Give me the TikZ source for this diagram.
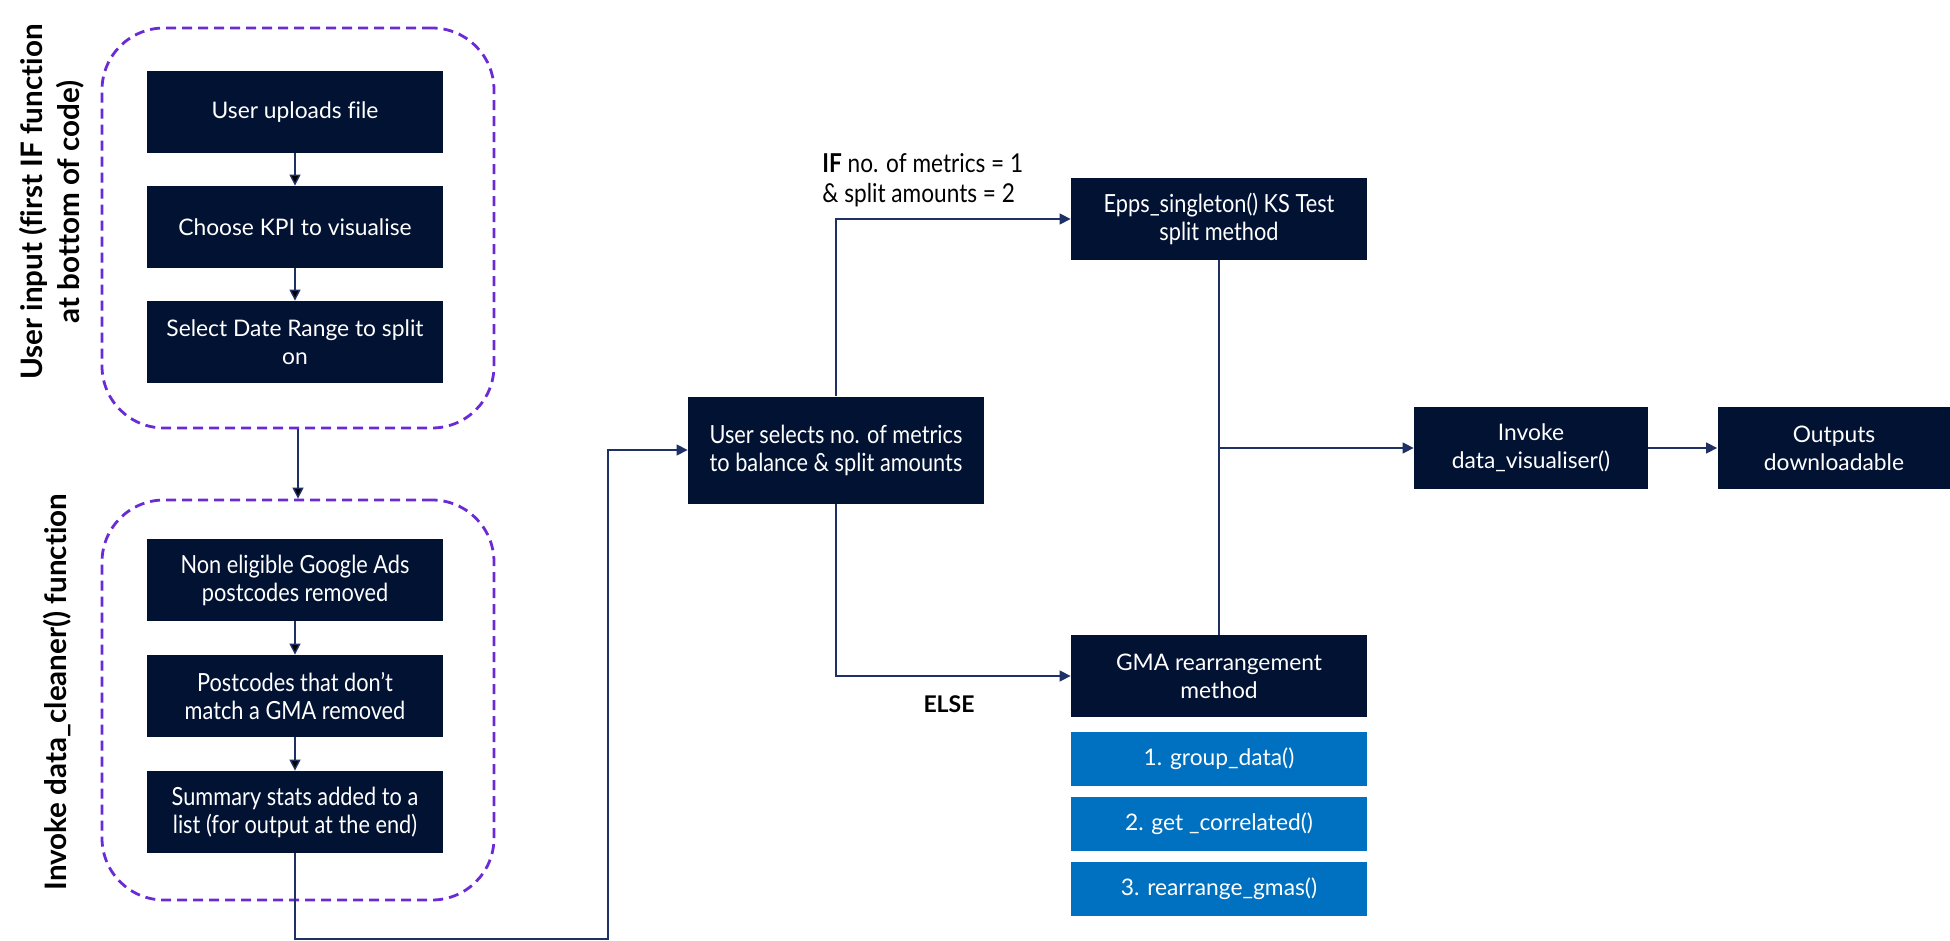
\documentclass[tikz,border=0pt]{standalone}
\usepackage{fontspec}
\setmainfont{Lato}[Ligatures=CommonOff]
\newfontfamily\narrowfont[FakeStretch=0.87,Ligatures=CommonOff]{Lato}
\usepackage{xcolor}
\usepackage{tikz}
\usetikzlibrary{shapes, arrows.meta}

\definecolor{navy}{HTML}{021233}
\definecolor{azure}{HTML}{0070C0}
\definecolor{violet}{HTML}{6A2BD6}
\definecolor{wire}{HTML}{1F3064}

\begin{document}
\begin{tikzpicture}[-,>={Triangle[length=5.5pt,width=5.5pt]},x=0.5pt,y=-0.5pt,node distance=57.5pt,
      wire/.style={draw=wire,line width=0.7pt},
      dark node/.style={rectangle,fill=navy,text=white,minimum width=148pt,minimum height=41pt,
        align=center,inner sep=2pt,font=\fontsize{11.4}{14}\selectfont},
      narrow node/.style={dark node,font=\narrowfont\fontsize{12.5}{14}\selectfont},
      blue node/.style={dark node,fill=azure,minimum height=27pt},
      group box/.style={draw=violet,line width=1.4pt,dash pattern=on 5pt off 3pt,
        rounded corners=31pt,minimum width=196pt,minimum height=200pt},
      side label/.style={rotate=90,align=center,font=\bfseries\fontsize{14.8}{18.5}\selectfont}]
    \useasboundingbox (0,0) rectangle (1950,941);

    % dashed groups and their labels
    \node[group box] (g1) at (298,228) {};
    \node[group box] (g2) at (298,700) {};
    \node[side label] (t1) at (52,202) {User input (first IF function\\at bottom of code)};
    \node[side label] (t2) at (57,692) {Invoke data\_cleaner() function};

    \node[dark node] (1) at (295,112) {User uploads file};
    \node[dark node] (2) [below of=1] {Choose KPI to visualise};
    \node[dark node] (3) [below of=2] {Select Date Range to split\\on};

    \node[narrow node] (4) at (295,580) {Non eligible Google Ads\\postcodes removed};
    \node[narrow node] (5) [below of=4,node distance=58pt] {Postcodes that don’t\\match a GMA removed};
    \node[narrow node] (6) [below of=5,node distance=58pt] {Summary stats added to a\\list (for output at the end)};

    \node[narrow node,minimum height=53.5pt] (7) at (836,450) {User selects no. of metrics\\to balance \& split amounts};
    \node[narrow node] (8) at (1219,219) {Epps\_singleton() KS Test\\split method};
    \node[dark node] (9) at (1219,676) {GMA rearrangement\\method};
    \node[blue node] (10) [below of=9,node distance=41.5pt] {1. group\_data()};
    \node[blue node] (11) [below of=10,node distance=32.5pt] {2. get \_correlated()};
    \node[blue node] (12) [below of=11,node distance=32.5pt] {3. rearrange\_gmas()};

    \node[dark node,minimum width=117pt] (13) at (1531,448) {Invoke\\data\_visualiser()};
    \node[dark node,minimum width=116.5pt] (14) at (1834,448) {Outputs\\downloadable};

    \node[anchor=west,align=left,inner sep=0pt,font=\narrowfont\fontsize{13}{15}\selectfont] (t3) at (822,180)
        {\textbf{IF} no. of metrics = 1\\\& split amounts = 2};
    \node[font=\bfseries\fontsize{11.5}{14}\selectfont] (t4) at (949,704) {ELSE};

    \coordinate (c1) at (608,939);

    \path[wire,->]
        (1) edge (2)
        (2) edge (3)
        (4) edge (5)
        (5) edge (6)
        (g1) edge (g2)
    ;
    \draw[wire,->] (6.south) |- (c1) |- (7.west);
    \draw[wire,->] (7.north) |- (8.west);
    \draw[wire,->] (7.south) |- (9.west);
    \draw[wire] (8.south) -- (9.north);
    \draw[wire,->] (8.south |- 13.west) -- (13.west);
    \draw[wire,->] (13) -- (14);
\end{tikzpicture}
\end{document}
